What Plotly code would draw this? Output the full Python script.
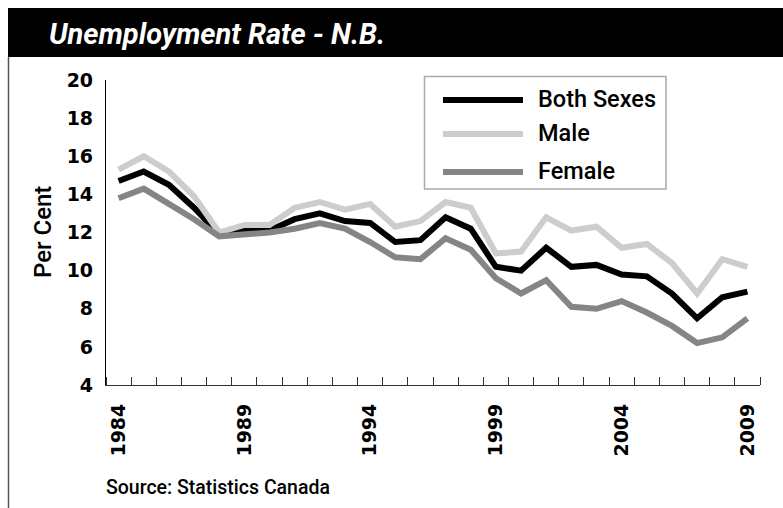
import plotly.graph_objects as go

# ---- data ----
years = list(range(1984, 2010))
both_sexes = [14.7, 15.2, 14.5, 13.3, 11.9, 12.1, 12.1, 12.7, 13.0, 12.6, 12.5, 11.5, 11.6,
              12.8, 12.2, 10.2, 10.0, 11.2, 10.2, 10.3, 9.8, 9.7, 8.8, 7.5, 8.6, 8.9]
male = [15.3, 16.0, 15.2, 13.9, 12.0, 12.4, 12.4, 13.3, 13.6, 13.2, 13.5, 12.3, 12.6,
        13.6, 13.3, 10.9, 11.0, 12.8, 12.1, 12.3, 11.2, 11.4, 10.4, 8.8, 10.6, 10.2]
female = [13.8, 14.3, 13.5, 12.7, 11.8, 11.9, 12.0, 12.2, 12.5, 12.2, 11.5, 10.7, 10.6,
          11.7, 11.1, 9.6, 8.8, 9.5, 8.1, 8.0, 8.4, 7.8, 7.1, 6.2, 6.5, 7.5]
series_names = ["Both Sexes", "Male", "Female"]
x_tick_labels = ["1984", "1989", "1994", "1999", "2004", "2009"]
y_ticks = [4, 6, 8, 10, 12, 14, 16, 18, 20]
title_text = "Unemployment Rate - N.B."
y_title = "Per Cent"
source_text = "Source: Statistics Canada"

# ---- style ----
colors = ["#000000", "#cdcdcd", "#858585"]
LW = 6
W, H = 783, 508
L, R, T, B = 106, 760, 80, 385  # plot area in pixels


def px(x):
    return (x - L) / (R - L)


def py(y):
    return (B - y) / (B - T)


fig = go.Figure()
for name, vals, col in zip(series_names, [both_sexes, male, female], colors):
    fig.add_trace(go.Scatter(x=years, y=vals, mode="lines", name=name,
                             line=dict(color=col, width=LW), showlegend=False))

shapes = []
annotations = []

# title bar
shapes.append(dict(type="rect", xref="paper", yref="paper", x0=px(8), x1=px(790),
                   y0=py(57), y1=py(8), fillcolor="black", line=dict(width=0), layer="below"))
# left frame line
shapes.append(dict(type="line", xref="paper", yref="paper", x0=px(8.5), x1=px(8.5),
                   y0=py(57), y1=py(515), line=dict(color="#555555", width=1.5)))
annotations.append(dict(text=title_text, xref="paper", yref="paper", x=px(47), y=py(34),
                        xanchor="left", yanchor="middle", showarrow=False,
                        font=dict(family="Roboto", size=29, color="white", weight="bold", style="italic")))

# y-axis title
annotations.append(dict(text=y_title, xref="paper", yref="paper", x=px(43), y=py(232),
                        xanchor="center", yanchor="middle", textangle=-90, showarrow=False,
                        font=dict(family="Roboto", size=24, color="black", weight=500)))

# source
annotations.append(dict(text=source_text, xref="paper", yref="paper", x=px(104), y=py(487),
                        xanchor="left", yanchor="middle", showarrow=False,
                        font=dict(family="Roboto", size=19.5, color="black", weight=500)))

# legend (manual)
shapes.append(dict(type="rect", xref="paper", yref="paper", x0=px(424.5), x1=px(666),
                   y0=py(189), y1=py(76.5), fillcolor="white",
                   line=dict(color="#aaaaaa", width=1.5)))
leg_y = [100, 134, 172]
for name, col, yy in zip(series_names, colors, leg_y):
    shapes.append(dict(type="line", xref="paper", yref="paper", x0=px(443), x1=px(523),
                       y0=py(yy), y1=py(yy), line=dict(color=col, width=LW)))
    annotations.append(dict(text=name, xref="paper", yref="paper", x=px(536), y=py(yy - 1),
                            xanchor="left", yanchor="middle", showarrow=False,
                            font=dict(family="Roboto", size=23.5, color="black", weight=500)))

boundaries = [y - 0.5 for y in years] + [years[-1] + 0.5]

fig.update_layout(
    width=W, height=H,
    margin=dict(l=L, r=W - R, t=T, b=H - B),
    paper_bgcolor="white", plot_bgcolor="white",
    shapes=shapes, annotations=annotations,
    showlegend=False,
    xaxis=dict(range=[1983.5, 2009.5], tickmode="array",
               tickvals=[int(t) for t in x_tick_labels], ticktext=x_tick_labels,
               tickangle=-90, ticks="", showgrid=False, zeroline=False,
               showline=True, linecolor="#333333", linewidth=1.2,
               tickfont=dict(family="DejaVu Sans", size=19, color="black", weight="bold"),
               ticklabelstandoff=10,
               minor=dict(tickmode="array", tickvals=boundaries, ticks="inside",
                          ticklen=8, tickcolor="#333333", tickwidth=1, showgrid=False)),
    yaxis=dict(range=[4, 20], tickmode="array", tickvals=y_ticks,
               ticks="", showgrid=False, zeroline=False,
               showline=True, linecolor="black", linewidth=1.2,
               tickfont=dict(family="DejaVu Sans", size=19, color="black", weight="bold"),
               ticklabelstandoff=8),
)

fig.write_html("out.html", config={"displayModeBar": False},
               post_script="document.body.style.margin='0px';document.body.style.overflow='hidden';")
